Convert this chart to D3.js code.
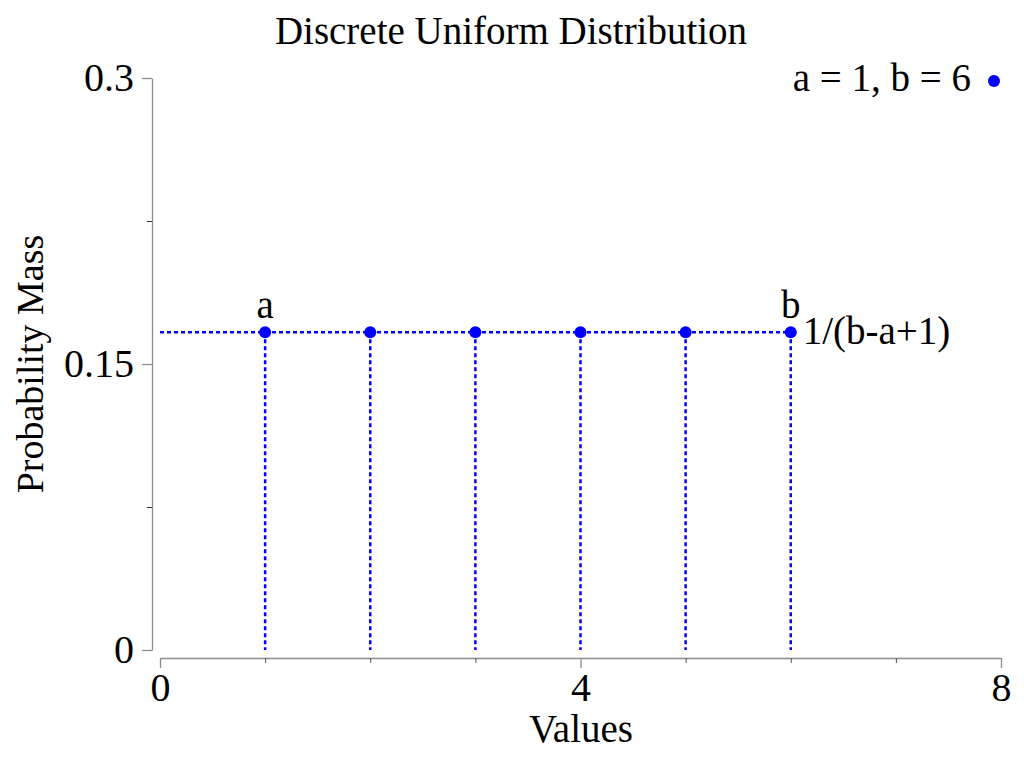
<!DOCTYPE html>
<html><head><meta charset="utf-8">
<script src="https://cdn.jsdelivr.net/npm/d3@7"></script>
<style>body{margin:0;background:#fff}svg{display:block}text{font-family:"Liberation Serif","Times New Roman",serif;fill:#000}</style>
</head><body><svg id="c" width="1024" height="768"></svg>
<script>
const xValues = [1, 2, 3, 4, 5, 6];
const pmf = [1/6, 1/6, 1/6, 1/6, 1/6, 1/6];
const xTicks = [0, 4, 8];
const xMinorTicks = [1, 2, 3, 5, 6, 7];
const yTicks = [0, 0.15, 0.3];
const yTickLabels = ["0", "0.15", "0.3"];
const yMinorTicks = [0.075, 0.225];
const legendLabel = "a = 1, b = 6";

const svg = d3.select("#c");
const x = d3.scaleLinear().domain([0, 8]).range([160, 1001]);
const y = d3.scaleLinear().domain([0, 0.3]).range([650, 78]);
const axisColor = "#8c8c8c";
const blue = "#0000ff";
const fs = 39;

// Y axis
const yAxisX = 152;
const ya = svg.append("g").attr("transform", `translate(${yAxisX},0)`)
  .call(d3.axisLeft(y).tickValues(yTicks).tickFormat((d,i)=>yTickLabels[i]).tickSize(10).tickPadding(8).tickSizeOuter(0));
ya.select(".domain").attr("stroke", axisColor).attr("stroke-width", 1.3);
ya.selectAll(".tick line").attr("stroke", axisColor).attr("stroke-width", 1.3);
ya.selectAll(".tick text").attr("font-size", 40).attr("font-family", "Liberation Serif");
svg.append("g").attr("transform", `translate(${yAxisX},0)`)
  .call(d3.axisLeft(y).tickValues(yMinorTicks).tickFormat("").tickSize(5).tickSizeOuter(0))
  .call(g => { g.select(".domain").remove(); g.selectAll(".tick line").attr("stroke", "#333"); });

// X axis
const xAxisY = 658;
const xa = svg.append("g").attr("transform", `translate(0,${xAxisY})`)
  .call(d3.axisBottom(x).tickValues(xTicks).tickFormat(d3.format("d")).tickSize(10).tickPadding(5).tickSizeOuter(0));
xa.select(".domain").attr("stroke", axisColor).attr("stroke-width", 1.3);
xa.selectAll(".tick line").attr("stroke", axisColor).attr("stroke-width", 1.3);
xa.selectAll(".tick text").attr("font-size", 40).attr("font-family", "Liberation Serif");
svg.append("g").attr("transform", `translate(0,${xAxisY})`)
  .call(d3.axisBottom(x).tickValues(xMinorTicks).tickFormat("").tickSize(5).tickSizeOuter(0))
  .call(g => { g.select(".domain").remove(); g.selectAll(".tick line").attr("stroke", "#555"); });

// Dotted lines
const dash = "4,3";
svg.append("line")
  .attr("x1", x(0)).attr("x2", x(xValues[xValues.length-1]))
  .attr("y1", y(pmf[0])).attr("y2", y(pmf[0]))
  .attr("stroke", blue).attr("stroke-width", 2.5).attr("stroke-dasharray", dash);
svg.selectAll("line.stem").data(xValues).join("line").attr("class","stem")
  .attr("x1", d=>x(d)).attr("x2", d=>x(d))
  .attr("y1", (d,i)=>y(pmf[i])).attr("y2", y(0))
  .attr("stroke", blue).attr("stroke-width", 2.5).attr("stroke-dasharray", dash);
svg.selectAll("circle.pt").data(xValues).join("circle").attr("class","pt")
  .attr("cx", d=>x(d)).attr("cy", (d,i)=>y(pmf[i])).attr("r", 6).attr("fill", blue);

// Annotations
svg.append("text").attr("x", x(xValues[0])).attr("y", y(pmf[0]) - 14)
  .attr("text-anchor","middle").attr("font-size", fs).text("a");
svg.append("text").attr("x", x(xValues[5])).attr("y", y(pmf[5]) - 14)
  .attr("text-anchor","middle").attr("font-size", fs).text("b");
svg.append("text").attr("x", x(xValues[5]) + 12).attr("y", y(pmf[5]) + 12)
  .attr("font-size", fs).text("1/(b-a+1)");

// Legend
svg.append("text").attr("x", 971).attr("y", 91).attr("text-anchor","end")
  .attr("font-size", fs).text(legendLabel);
svg.append("circle").attr("cx", 994).attr("cy", 81).attr("r", 6).attr("fill", blue);

// Titles
svg.append("text").attr("x", 511).attr("y", 44).attr("text-anchor","middle")
  .attr("font-size", fs).text("Discrete Uniform Distribution");
svg.append("text").attr("x", 581).attr("y", 742).attr("text-anchor","middle")
  .attr("font-size", fs).text("Values");
svg.append("text").attr("transform", "translate(43,364) rotate(-90)").attr("text-anchor","middle")
  .attr("font-size", 38).text("Probability Mass");
</script></body></html>
